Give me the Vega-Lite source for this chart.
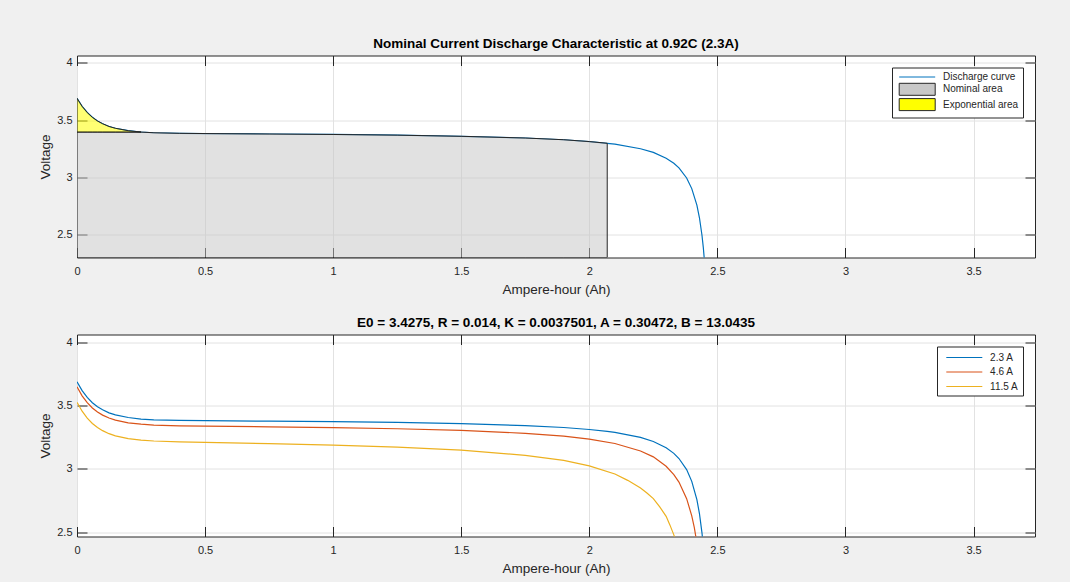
{
  "$schema": "https://vega.github.io/schema/vega-lite/v6.json",
  "background": "#f0f0f0",
  "padding": {"left": 37, "top": 36.5, "right": 34, "bottom": 6},
  "datasets": {
    "curves": [
      {"s": "2.3 A", "ah": 0, "v": 3.691}, {"s": "2.3 A", "ah": 0.02, "v": 3.621}, {"s": "2.3 A", "ah": 0.04, "v": 3.567}, {"s": "2.3 A", "ah": 0.06, "v": 3.525}, {"s": "2.3 A", "ah": 0.08, "v": 3.493}, {"s": "2.3 A", "ah": 0.1, "v": 3.469}, {"s": "2.3 A", "ah": 0.125, "v": 3.445}, {"s": "2.3 A", "ah": 0.15, "v": 3.429}, {"s": "2.3 A", "ah": 0.2, "v": 3.408}, {"s": "2.3 A", "ah": 0.25, "v": 3.396}, {"s": "2.3 A", "ah": 0.3, "v": 3.39}, {"s": "2.3 A", "ah": 0.4, "v": 3.385}, {"s": "2.3 A", "ah": 0.5, "v": 3.383}, {"s": "2.3 A", "ah": 0.75, "v": 3.379}, {"s": "2.3 A", "ah": 1.0, "v": 3.375}, {"s": "2.3 A", "ah": 1.25, "v": 3.369}, {"s": "2.3 A", "ah": 1.5, "v": 3.359}, {"s": "2.3 A", "ah": 1.75, "v": 3.344}, {"s": "2.3 A", "ah": 1.9, "v": 3.329}, {"s": "2.3 A", "ah": 2.0, "v": 3.313}, {"s": "2.3 A", "ah": 2.07, "v": 3.298}, {"s": "2.3 A", "ah": 2.1, "v": 3.29}, {"s": "2.3 A", "ah": 2.2, "v": 3.25}, {"s": "2.3 A", "ah": 2.25, "v": 3.218}, {"s": "2.3 A", "ah": 2.3, "v": 3.168}, {"s": "2.3 A", "ah": 2.33, "v": 3.124}, {"s": "2.3 A", "ah": 2.35, "v": 3.083}, {"s": "2.3 A", "ah": 2.38, "v": 2.995}, {"s": "2.3 A", "ah": 2.4, "v": 2.902}, {"s": "2.3 A", "ah": 2.42, "v": 2.757}, {"s": "2.3 A", "ah": 2.43, "v": 2.647}, {"s": "2.3 A", "ah": 2.44, "v": 2.492}, {"s": "2.3 A", "ah": 2.445, "v": 2.389}, {"s": "2.3 A", "ah": 2.45, "v": 2.259},
      {"s": "4.6 A", "ah": 0, "v": 3.651}, {"s": "4.6 A", "ah": 0.02, "v": 3.58}, {"s": "4.6 A", "ah": 0.04, "v": 3.526}, {"s": "4.6 A", "ah": 0.06, "v": 3.484}, {"s": "4.6 A", "ah": 0.08, "v": 3.452}, {"s": "4.6 A", "ah": 0.1, "v": 3.427}, {"s": "4.6 A", "ah": 0.125, "v": 3.404}, {"s": "4.6 A", "ah": 0.15, "v": 3.387}, {"s": "4.6 A", "ah": 0.2, "v": 3.366}, {"s": "4.6 A", "ah": 0.25, "v": 3.355}, {"s": "4.6 A", "ah": 0.3, "v": 3.348}, {"s": "4.6 A", "ah": 0.4, "v": 3.342}, {"s": "4.6 A", "ah": 0.5, "v": 3.34}, {"s": "4.6 A", "ah": 0.75, "v": 3.334}, {"s": "4.6 A", "ah": 1.0, "v": 3.328}, {"s": "4.6 A", "ah": 1.25, "v": 3.319}, {"s": "4.6 A", "ah": 1.5, "v": 3.306}, {"s": "4.6 A", "ah": 1.75, "v": 3.283}, {"s": "4.6 A", "ah": 1.9, "v": 3.26}, {"s": "4.6 A", "ah": 2.0, "v": 3.237}, {"s": "4.6 A", "ah": 2.1, "v": 3.202}, {"s": "4.6 A", "ah": 2.2, "v": 3.143}, {"s": "4.6 A", "ah": 2.25, "v": 3.096}, {"s": "4.6 A", "ah": 2.3, "v": 3.022}, {"s": "4.6 A", "ah": 2.33, "v": 2.956}, {"s": "4.6 A", "ah": 2.35, "v": 2.896}, {"s": "4.6 A", "ah": 2.38, "v": 2.765}, {"s": "4.6 A", "ah": 2.4, "v": 2.629}, {"s": "4.6 A", "ah": 2.41, "v": 2.535}, {"s": "4.6 A", "ah": 2.42, "v": 2.414}, {"s": "4.6 A", "ah": 2.43, "v": 2.251},
      {"s": "11.5 A", "ah": 0, "v": 3.528}, {"s": "11.5 A", "ah": 0.02, "v": 3.458}, {"s": "11.5 A", "ah": 0.04, "v": 3.403}, {"s": "11.5 A", "ah": 0.06, "v": 3.361}, {"s": "11.5 A", "ah": 0.08, "v": 3.329}, {"s": "11.5 A", "ah": 0.1, "v": 3.304}, {"s": "11.5 A", "ah": 0.125, "v": 3.28}, {"s": "11.5 A", "ah": 0.15, "v": 3.263}, {"s": "11.5 A", "ah": 0.2, "v": 3.241}, {"s": "11.5 A", "ah": 0.25, "v": 3.229}, {"s": "11.5 A", "ah": 0.3, "v": 3.222}, {"s": "11.5 A", "ah": 0.4, "v": 3.215}, {"s": "11.5 A", "ah": 0.5, "v": 3.211}, {"s": "11.5 A", "ah": 0.75, "v": 3.201}, {"s": "11.5 A", "ah": 1.0, "v": 3.19}, {"s": "11.5 A", "ah": 1.25, "v": 3.174}, {"s": "11.5 A", "ah": 1.5, "v": 3.15}, {"s": "11.5 A", "ah": 1.75, "v": 3.108}, {"s": "11.5 A", "ah": 1.9, "v": 3.068}, {"s": "11.5 A", "ah": 2.0, "v": 3.025}, {"s": "11.5 A", "ah": 2.1, "v": 2.96}, {"s": "11.5 A", "ah": 2.15, "v": 2.91}, {"s": "11.5 A", "ah": 2.2, "v": 2.85}, {"s": "11.5 A", "ah": 2.225, "v": 2.81}, {"s": "11.5 A", "ah": 2.25, "v": 2.765}, {"s": "11.5 A", "ah": 2.275, "v": 2.7}, {"s": "11.5 A", "ah": 2.3, "v": 2.625}, {"s": "11.5 A", "ah": 2.315, "v": 2.555}, {"s": "11.5 A", "ah": 2.33, "v": 2.478}, {"s": "11.5 A", "ah": 2.34, "v": 2.42}, {"s": "11.5 A", "ah": 2.35, "v": 2.36}
    ],
    "nominal": [
      {"ah": 0, "v": 3.396}, {"ah": 0.25, "v": 3.396}, {"ah": 0.3, "v": 3.39}, {"ah": 0.4, "v": 3.385}, {"ah": 0.5, "v": 3.383}, {"ah": 0.75, "v": 3.379}, {"ah": 1.0, "v": 3.375}, {"ah": 1.25, "v": 3.369}, {"ah": 1.5, "v": 3.359}, {"ah": 1.75, "v": 3.344}, {"ah": 1.9, "v": 3.329}, {"ah": 2.0, "v": 3.313}, {"ah": 2.07, "v": 3.298}
    ],
    "exponential": [
      {"ah": 0, "v": 3.691}, {"ah": 0.02, "v": 3.621}, {"ah": 0.04, "v": 3.567}, {"ah": 0.06, "v": 3.525}, {"ah": 0.08, "v": 3.493}, {"ah": 0.1, "v": 3.469}, {"ah": 0.125, "v": 3.445}, {"ah": 0.15, "v": 3.429}, {"ah": 0.2, "v": 3.408}, {"ah": 0.25, "v": 3.396}
    ]
  },
  "config": {
    "font": "Liberation Sans",
    "view": {"fill": "white", "stroke": "#262626", "strokeWidth": 1},
    "axis": {
      "labelFont": "Liberation Sans", "labelFontSize": 11, "labelColor": "#262626",
      "titleFont": "Liberation Sans", "titleFontSize": 13.5, "titleFontWeight": "normal", "titleColor": "#262626",
      "gridColor": "#e2e2e2", "gridWidth": 1, "gridOpacity": 1,
      "tickColor": "#262626", "tickSize": -10, "tickWidth": 1,
      "domain": false, "labelFlush": false, "labelPadding": 18, "titlePadding": 6
    },
    "axisY": {"titlePadding": 4.5},
    "title": {"font": "Liberation Sans", "fontSize": 13.5, "fontWeight": "bold", "color": "black", "offset": 4.5},
    "legend": {
      "title": null, "orient": "top-right", "offset": 12, "padding": 4,
      "strokeColor": "#262626", "fillColor": "white", "cornerRadius": 0,
      "labelFont": "Liberation Sans", "labelFontSize": 10, "labelColor": "#262626",
      "symbolSize": 100, "symbolStrokeWidth": 1.2, "symbolOffset": 3.7, "labelOffset": 32.3, "rowPadding": -1.7
    }
  },
  "spacing": 77,
  "bounds": "flush",
  "resolve": {"scale": {"color": "independent", "stroke": "independent"}, "legend": {"color": "independent", "stroke": "independent"}},
  "vconcat": [
    {
      "width": 958, "height": 202,
      "title": "Nominal Current Discharge Characteristic at 0.92C (2.3A)",
      "resolve": {"axis": {"x": "independent", "y": "independent"}},
      "layer": [
        {
          "data": {"name": "curves"},
          "transform": [{"filter": "datum.s === '2.3 A'"}],
          "mark": {"type": "line", "strokeWidth": 1.2, "clip": true},
          "encoding": {
            "x": {"field": "ah", "type": "quantitative", "scale": {"domain": [0, 3.74], "nice": false, "zero": false},
                  "axis": {"values": [0, 0.5, 1, 1.5, 2, 2.5, 3, 3.5], "format": "~g", "title": "Ampere-hour (Ah)"}},
            "y": {"field": "v", "type": "quantitative", "scale": {"domain": [2.3, 4.065], "nice": false, "zero": false},
                  "axis": {"values": [2.5, 3, 3.5, 4], "format": "~g", "title": "Voltage", "labelPadding": 15}},
            "stroke": {"datum": "Discharge curve",
              "scale": {"domain": ["Discharge curve", "Nominal area", "Exponential area"], "range": ["#0072BD", "#262626", "#262626"]},
              "legend": {
                "encode": {"symbols": {"update": {
                  "shape": {"signal": "datum.value === 'Discharge curve' ? 'M-1.2,0H6' : 'M-1.2,-1.2H6V1.2H-1.2Z'"},
                  "fill": {"signal": "datum.value === 'Discharge curve' ? 'transparent' : (datum.value === 'Nominal area' ? '#c8c8c8' : '#ffff00')"},
                  "opacity": {"value": 1}, "fillOpacity": {"value": 1}, "strokeOpacity": {"value": 1}, "strokeWidth": {"value": 1}
                }}}
              }}
          }
        },
        {
          "data": {"name": "nominal"},
          "mark": {"type": "area", "fill": "#c4c4c4", "fillOpacity": 0.5, "strokeWidth": 1, "clip": true},
          "encoding": {
            "x": {"field": "ah", "type": "quantitative",
                  "axis": {"orient": "top", "values": [0, 0.5, 1, 1.5, 2, 2.5, 3, 3.5], "labels": false, "title": null, "grid": false, "zindex": 1}},
            "y": {"field": "v", "type": "quantitative",
                  "axis": {"orient": "right", "values": [2.5, 3, 3.5, 4], "labels": false, "title": null, "grid": false, "zindex": 1}},
            "y2": {"datum": 2.3},
            "stroke": {"datum": "Nominal area",
              "legend": {
                "encode": {"symbols": {"update": {
                  "shape": {"signal": "datum.value === 'Discharge curve' ? 'M-1.2,0H6' : 'M-1.2,-1.2H6V1.2H-1.2Z'"},
                  "fill": {"signal": "datum.value === 'Discharge curve' ? 'transparent' : (datum.value === 'Nominal area' ? '#c8c8c8' : '#ffff00')"},
                  "opacity": {"value": 1}, "fillOpacity": {"value": 1}, "strokeOpacity": {"value": 1}, "strokeWidth": {"value": 1}
                }}}
              }}
          }
        },
        {
          "data": {"name": "exponential"},
          "mark": {"type": "area", "fill": "#ffff00", "fillOpacity": 0.55, "strokeWidth": 1, "clip": true},
          "encoding": {
            "x": {"field": "ah", "type": "quantitative", "axis": null},
            "y": {"field": "v", "type": "quantitative", "axis": null},
            "y2": {"datum": 3.396},
            "stroke": {"datum": "Exponential area",
              "legend": {
                "encode": {"symbols": {"update": {
                  "shape": {"signal": "datum.value === 'Discharge curve' ? 'M-1.2,0H6' : 'M-1.2,-1.2H6V1.2H-1.2Z'"},
                  "fill": {"signal": "datum.value === 'Discharge curve' ? 'transparent' : (datum.value === 'Nominal area' ? '#c8c8c8' : '#ffff00')"},
                  "opacity": {"value": 1}, "fillOpacity": {"value": 1}, "strokeOpacity": {"value": 1}, "strokeWidth": {"value": 1}
                }}}
              }}
          }
        }
      ]
    },
    {
      "width": 958, "height": 202,
      "title": "E0 = 3.4275, R = 0.014, K = 0.0037501, A = 0.30472, B = 13.0435",
      "resolve": {"axis": {"x": "independent", "y": "independent"}},
      "layer": [
        {
          "data": {"name": "curves"},
          "mark": {"type": "line", "strokeWidth": 1.2, "clip": true},
          "encoding": {
            "x": {"field": "ah", "type": "quantitative", "scale": {"domain": [0, 3.74], "nice": false, "zero": false},
                  "axis": {"values": [0, 0.5, 1, 1.5, 2, 2.5, 3, 3.5], "format": "~g", "title": "Ampere-hour (Ah)"}},
            "y": {"field": "v", "type": "quantitative", "scale": {"domain": [2.465, 4.066], "nice": false, "zero": false},
                  "axis": {"values": [2.5, 3, 3.5, 4], "format": "~g", "title": "Voltage", "labelPadding": 15}},
            "color": {"field": "s", "type": "nominal", "sort": ["2.3 A", "4.6 A", "11.5 A"],
              "scale": {"domain": ["2.3 A", "4.6 A", "11.5 A"], "range": ["#0072BD", "#D95319", "#EDB120"]},
              "legend": {"symbolType": "M-1,0H5", "symbolSize": 144, "labelFontSize": 10, "rowPadding": 2.5, "padding": 4, "symbolOffset": 4.3, "labelOffset": 30.8}}
          }
        },
        {
          "data": {"name": "curves"},
          "mark": {"type": "line", "opacity": 0},
          "encoding": {
            "x": {"field": "ah", "type": "quantitative",
                  "axis": {"orient": "top", "values": [0, 0.5, 1, 1.5, 2, 2.5, 3, 3.5], "labels": false, "title": null, "grid": false, "zindex": 1}},
            "y": {"field": "v", "type": "quantitative",
                  "axis": {"orient": "right", "values": [2.5, 3, 3.5, 4], "labels": false, "title": null, "grid": false, "zindex": 1}},
            "detail": {"field": "s"}
          }
        }
      ]
    }
  ]
}
